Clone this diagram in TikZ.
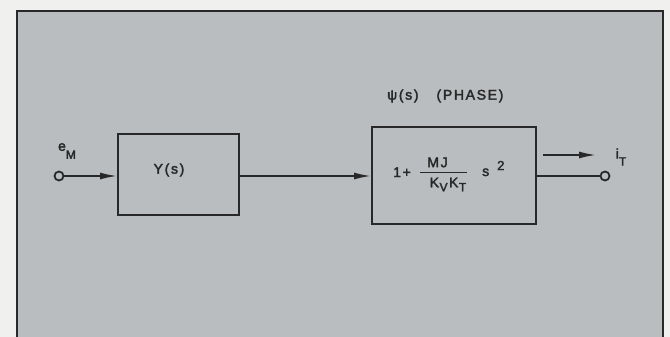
\documentclass[tikz,border=0pt]{standalone}
\usepackage{fontspec}
\setmainfont{Liberation Sans}
\newfontfamily\spaced[LetterSpace=12,FakeBold=2.5]{Liberation Sans}
\usetikzlibrary{arrows.meta}
\definecolor{paper}{RGB}{240,240,238}
\definecolor{panel}{RGB}{186,189,191}
\definecolor{ink}{RGB}{40,40,40}
\newcommand{\lowsub}[2][4pt]{\raisebox{-#1}{\fontsize{12}{12}\selectfont #2}}
\tikzset{
  frame/.style={draw=ink, fill=panel, line width=2pt},
  blockbox/.style={draw=ink, line width=2pt, inner sep=0pt},
  wire/.style={draw=ink, line width=1.7pt},
  sig/.style={wire, -{Latex[length=17pt,width=7pt]}},
  port/.style={circle, draw=ink, line width=1.8pt, fill=panel, minimum size=9pt, inner sep=0pt},
  lbl/.style={text=ink, inner sep=0pt, font=\spaced\fontsize{14}{16}\selectfont}
}
\begin{document}
\begin{tikzpicture}[x=1pt, y=-1pt]
  \useasboundingbox (0,0) rectangle (670,337);
  \fill[paper] (0,0) rectangle (670,337);
  \draw[frame] (17,11) rectangle (663,350);
  % blocks
  \node[blockbox, minimum width=121pt, minimum height=81pt] (ybox) at (178.5,174.5) {};
  \node[lbl] (ytext) at (169,170) {Y(s)};
  \node[blockbox, minimum width=164pt, minimum height=97pt] (pbox) at (454,175.5) {};
  % transfer function 1 + MJ/(KvKt) s^2
  \node[lbl, anchor=base west] (one) at (393,177) {1+};
  \node[lbl, anchor=north] (frac) at (443.5,155.8) {%
    \setlength{\tabcolsep}{0pt}\setlength{\arrayrulewidth}{1.3pt}\renewcommand{\arraystretch}{1}%
    \begin{tabular}{c}
      \makebox[47pt]{MJ\hspace{12pt}}\\ \hline
      \rule{0pt}{14pt}\makebox[47pt]{\hspace{9pt}K\hspace{0.5pt}\lowsub{V}\hspace{1.5pt}K\hspace{0.5pt}\lowsub{T}}
    \end{tabular}};
  \node[lbl, anchor=base west] (svar) at (482,176) {s};
  \node[lbl, anchor=base west, font=\spaced\fontsize{13}{13}\selectfont] (sexp) at (497,170) {2};
  \node[lbl, anchor=west] (plabel) at (387,96) {ψ(s)\hspace{18pt}(PHASE)};
  % ports
  \node[port] (inport) at (59,176) {};
  \node[port] (outport) at (605,176) {};
  \node[lbl] (elbl) at (67,151) {e\raisebox{-8pt}{\fontsize{12}{12}\selectfont M}};
  \node[lbl] (ilbl) at (621,157) {i\raisebox{-7pt}{\fontsize{12}{12}\selectfont T}};
  % connectors
  \draw[sig] (inport.east) -- (inport.east -| ybox.west);
  \draw[sig] (ybox.east |- inport) -- (inport -| pbox.west);
  \draw[wire] (outport -| pbox.east) -- (outport.west);
  \coordinate (oa1) at (543,155);
  \coordinate (oa2) at (596,155);
  \draw[sig] (oa1) -- (oa2);
\end{tikzpicture}
\end{document}
